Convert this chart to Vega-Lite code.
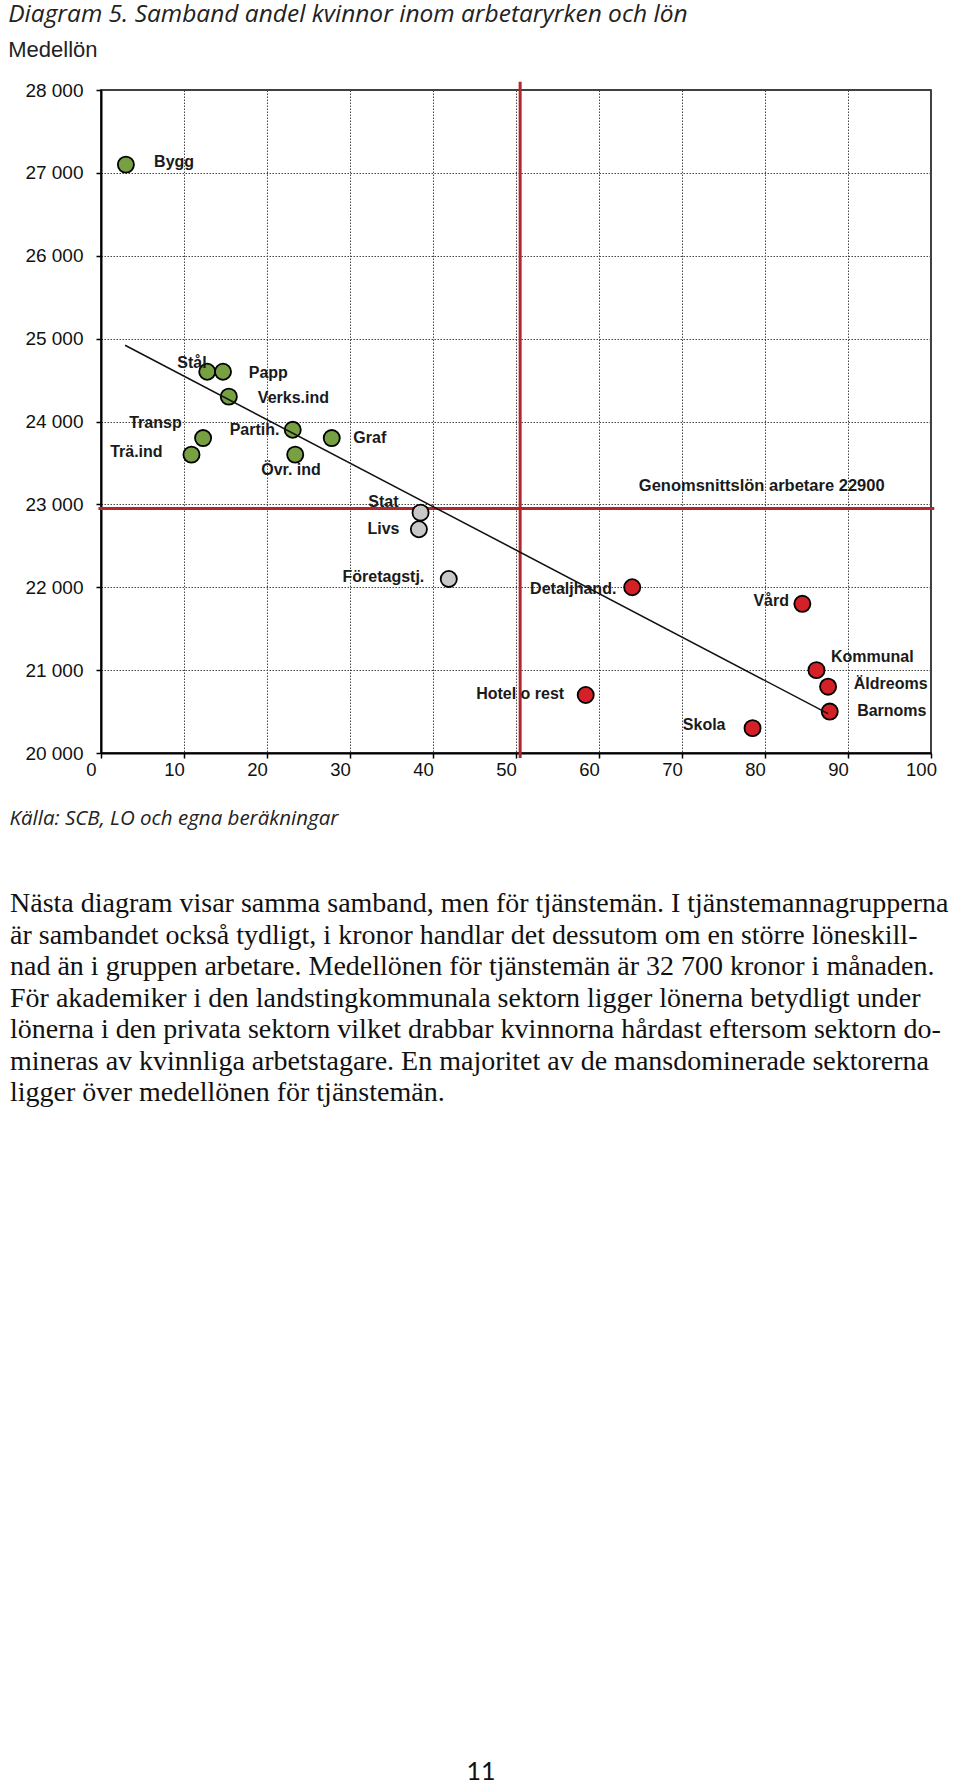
{
  "$schema": "https://vega.github.io/schema/vega-lite/v6.json",
  "background": "white",
  "padding": {"left": 8, "top": 1, "right": 0, "bottom": 0},
  "autosize": {"type": "pad"},
  "title": {
    "text": "Diagram 5. Samband andel kvinnor inom arbetaryrken och lön",
    "subtitle": "Medellön",
    "anchor": "start",
    "frame": "bounds",
    "font": "Open Sans",
    "fontStyle": "italic",
    "fontWeight": "normal",
    "fontSize": 24.5,
    "color": "#222",
    "subtitleFont": "Liberation Sans",
    "subtitleFontSize": 22,
    "subtitleColor": "#222",
    "subtitlePadding": 13,
    "offset": 17
  },
  "spacing": 60,
  "datasets": {
    "yrken": [
      {"namn": "Bygg", "andel_kvinnor": 3.0, "medellon": 27100, "grupp": "mansdominerad", "lx": 6.4, "ly": 27127},
      {"namn": "Stål", "andel_kvinnor": 12.8, "medellon": 24600, "grupp": "mansdominerad", "lx": 9.2, "ly": 24700},
      {"namn": "Papp", "andel_kvinnor": 14.7, "medellon": 24600, "grupp": "mansdominerad", "lx": 17.8, "ly": 24580},
      {"namn": "Verks.ind", "andel_kvinnor": 15.4, "medellon": 24300, "grupp": "mansdominerad", "lx": 18.9, "ly": 24278},
      {"namn": "Transp", "andel_kvinnor": 12.3, "medellon": 23800, "grupp": "mansdominerad", "lx": 3.4, "ly": 23976},
      {"namn": "Trä.ind", "andel_kvinnor": 10.9, "medellon": 23600, "grupp": "mansdominerad", "lx": 1.1, "ly": 23626},
      {"namn": "Partih.", "andel_kvinnor": 23.1, "medellon": 23900, "grupp": "mansdominerad", "lx": 15.5, "ly": 23895},
      {"namn": "Övr. ind", "andel_kvinnor": 23.4, "medellon": 23600, "grupp": "mansdominerad", "lx": 19.3, "ly": 23412},
      {"namn": "Graf", "andel_kvinnor": 27.8, "medellon": 23800, "grupp": "mansdominerad", "lx": 30.4, "ly": 23802},
      {"namn": "Stat", "andel_kvinnor": 38.5, "medellon": 22900, "grupp": "blandad", "lx": 32.2, "ly": 23030},
      {"namn": "Livs", "andel_kvinnor": 38.3, "medellon": 22700, "grupp": "blandad", "lx": 32.1, "ly": 22700},
      {"namn": "Företagstj.", "andel_kvinnor": 41.9, "medellon": 22100, "grupp": "blandad", "lx": 29.1, "ly": 22124},
      {"namn": "Detaljhand.", "andel_kvinnor": 64.0, "medellon": 22000, "grupp": "kvinnodominerad", "lx": 51.7, "ly": 21976},
      {"namn": "Vård", "andel_kvinnor": 84.5, "medellon": 21800, "grupp": "kvinnodominerad", "lx": 78.6, "ly": 21834},
      {"namn": "Kommunal", "andel_kvinnor": 86.2, "medellon": 21000, "grupp": "kvinnodominerad", "lx": 87.95, "ly": 21159},
      {"namn": "Äldreoms", "andel_kvinnor": 87.6, "medellon": 20800, "grupp": "kvinnodominerad", "lx": 90.7, "ly": 20837},
      {"namn": "Barnoms", "andel_kvinnor": 87.8, "medellon": 20500, "grupp": "kvinnodominerad", "lx": 91.1, "ly": 20506},
      {"namn": "Skola", "andel_kvinnor": 78.5, "medellon": 20300, "grupp": "kvinnodominerad", "lx": 70.1, "ly": 20342},
      {"namn": "Hotel o rest", "andel_kvinnor": 58.4, "medellon": 20700, "grupp": "kvinnodominerad", "lx": 45.2, "ly": 20717}
    ],
    "trend": [
      {"andel_kvinnor": 2.9, "medellon": 24920},
      {"andel_kvinnor": 87.6, "medellon": 20475}
    ],
    "referens": [
      {"andel_kvinnor": 50.5, "medellon": 22950, "etikett": "Genomsnittslön arbetare 22900", "lx": 64.8, "ly": 23223}
    ],
    "brodtext": [
      {"kol": 0, "rad": 0, "text": "Nästa diagram visar samma samband, men för tjänstemän. I tjänstemannagrupperna"},
      {"kol": 0, "rad": 1, "text": "är sambandet också tydligt, i kronor handlar det dessutom om en större löneskill-"},
      {"kol": 0, "rad": 2, "text": "nad än i gruppen arbetare. Medellönen för tjänstemän är 32 700 kronor i månaden."},
      {"kol": 0, "rad": 3, "text": "För akademiker i den landstingkommunala sektorn ligger lönerna betydligt under"},
      {"kol": 0, "rad": 4, "text": "lönerna i den privata sektorn vilket drabbar kvinnorna hårdast eftersom sektorn do-"},
      {"kol": 0, "rad": 5, "text": "mineras av kvinnliga arbetstagare. En majoritet av de mansdominerade sektorerna"},
      {"kol": 0, "rad": 6, "text": "ligger över medellönen för tjänstemän."}
    ],
    "sidnummer": [
      {"kol": 0.5, "rad": 27.5, "text": "11"}
    ]
  },
  "vconcat": [
    {
      "width": 830,
      "height": 663,
      "view": {"stroke": "#000", "strokeWidth": 1.5},
      "layer": [
        {
          "data": {"name": "referens"},
          "mark": {"type": "rule", "color": "#b3262c", "strokeWidth": 3},
          "encoding": {
            "y": {"field": "medellon", "type": "quantitative", "scale": {"domain": [20000, 28000], "nice": false, "zero": false}},
            "x": {"datum": -0.3, "type": "quantitative"},
            "x2": {"datum": 100.4}
          }
        },
        {
          "data": {"name": "referens"},
          "mark": {"type": "rule", "color": "#b3262c", "strokeWidth": 3},
          "encoding": {
            "x": {"field": "andel_kvinnor", "type": "quantitative", "scale": {"domain": [0, 100], "nice": false, "zero": false}},
            "y": {"datum": 28100, "type": "quantitative"},
            "y2": {"datum": 19940}
          }
        },
        {
          "data": {"name": "yrken"},
          "mark": {"type": "circle", "size": 260, "stroke": "#000", "strokeWidth": 1.8, "opacity": 1},
          "encoding": {
            "x": {
              "field": "andel_kvinnor", "type": "quantitative",
              "scale": {"domain": [0, 100], "nice": false, "zero": false},
              "axis": {
                "values": [0, 10, 20, 30, 40, 50, 60, 70, 80, 90, 100],
                "title": "Källa: SCB, LO och egna beräkningar",
                "titleFont": "Open Sans", "titleFontStyle": "italic", "titleFontWeight": "normal",
                "titleFontSize": 20.5, "titleColor": "#222",
                "titleAnchor": "start", "titleAlign": "left", "titleBaseline": "middle",
                "titleX": -92, "titleY": 65,
                "labelFont": "Liberation Sans", "labelFontSize": 18.5, "labelColor": "#111",
                "labelPadding": 2.5, "labelOffset": -10, "labelFlush": false, "labelOverlap": false,
                "tickSize": 5, "tickColor": "#000", "tickWidth": 1.5,
                "domainColor": "#000", "domainWidth": 2,
                "grid": true, "gridColor": "#444", "gridDash": [1.5, 1.5], "gridWidth": 1
              }
            },
            "y": {
              "field": "medellon", "type": "quantitative",
              "scale": {"domain": [20000, 28000], "nice": false, "zero": false},
              "axis": {
                "values": [20000, 21000, 22000, 23000, 24000, 25000, 26000, 27000, 28000],
                "title": null,
                "labelExpr": "replace(format(datum.value, ',d'), ',', ' ')",
                "labelFont": "Liberation Sans", "labelFontSize": 19, "labelColor": "#111",
                "labelPadding": 13, "labelFlush": false, "labelOverlap": false,
                "tickSize": 5, "tickColor": "#000", "tickWidth": 1.5,
                "domainColor": "#000", "domainWidth": 2,
                "grid": true, "gridColor": "#444", "gridDash": [1.5, 1.5], "gridWidth": 1
              }
            },
            "fill": {
              "field": "grupp", "type": "nominal",
              "scale": {"domain": ["mansdominerad", "blandad", "kvinnodominerad"], "range": ["#77a043", "#c8c8c8", "#d42027"]},
              "legend": null
            }
          }
        },
        {
          "data": {"name": "trend"},
          "mark": {"type": "line", "color": "#111", "strokeWidth": 1.5},
          "encoding": {
            "x": {"field": "andel_kvinnor", "type": "quantitative"},
            "y": {"field": "medellon", "type": "quantitative"}
          }
        },
        {
          "data": {"name": "yrken"},
          "mark": {"type": "text", "align": "left", "baseline": "middle", "font": "Liberation Sans", "fontSize": 16, "fontWeight": "bold", "color": "#1a1a1a"},
          "encoding": {
            "x": {"field": "lx", "type": "quantitative"},
            "y": {"field": "ly", "type": "quantitative"},
            "text": {"field": "namn"}
          }
        },
        {
          "data": {"name": "referens"},
          "mark": {"type": "text", "align": "left", "baseline": "middle", "font": "Liberation Sans", "fontSize": 16.5, "fontWeight": "bold", "color": "#1a1a1a"},
          "encoding": {
            "x": {"field": "lx", "type": "quantitative"},
            "y": {"field": "ly", "type": "quantitative"},
            "text": {"field": "etikett"}
          }
        }
      ]
    },
    {
      "width": 942,
      "height": 868,
      "view": {"stroke": null},
      "layer": [
        {
          "data": {"name": "brodtext"},
          "mark": {"type": "text", "align": "left", "baseline": "middle", "font": "Liberation Serif", "fontSize": 28, "color": "#111"},
          "encoding": {
            "x": {"field": "kol", "type": "quantitative", "scale": {"domain": [0, 1], "range": [-91, 851], "nice": false, "zero": false}, "axis": null},
            "y": {"field": "rad", "type": "quantitative", "scale": {"domain": [0, 27.5], "reverse": true, "nice": false, "zero": false}, "axis": null},
            "text": {"field": "text"}
          }
        },
        {
          "data": {"name": "sidnummer"},
          "mark": {"type": "text", "align": "center", "baseline": "middle", "font": "Lato", "fontSize": 25, "color": "#111"},
          "encoding": {
            "x": {"field": "kol", "type": "quantitative"},
            "y": {"field": "rad", "type": "quantitative"},
            "text": {"field": "text"}
          }
        }
      ]
    }
  ]
}
